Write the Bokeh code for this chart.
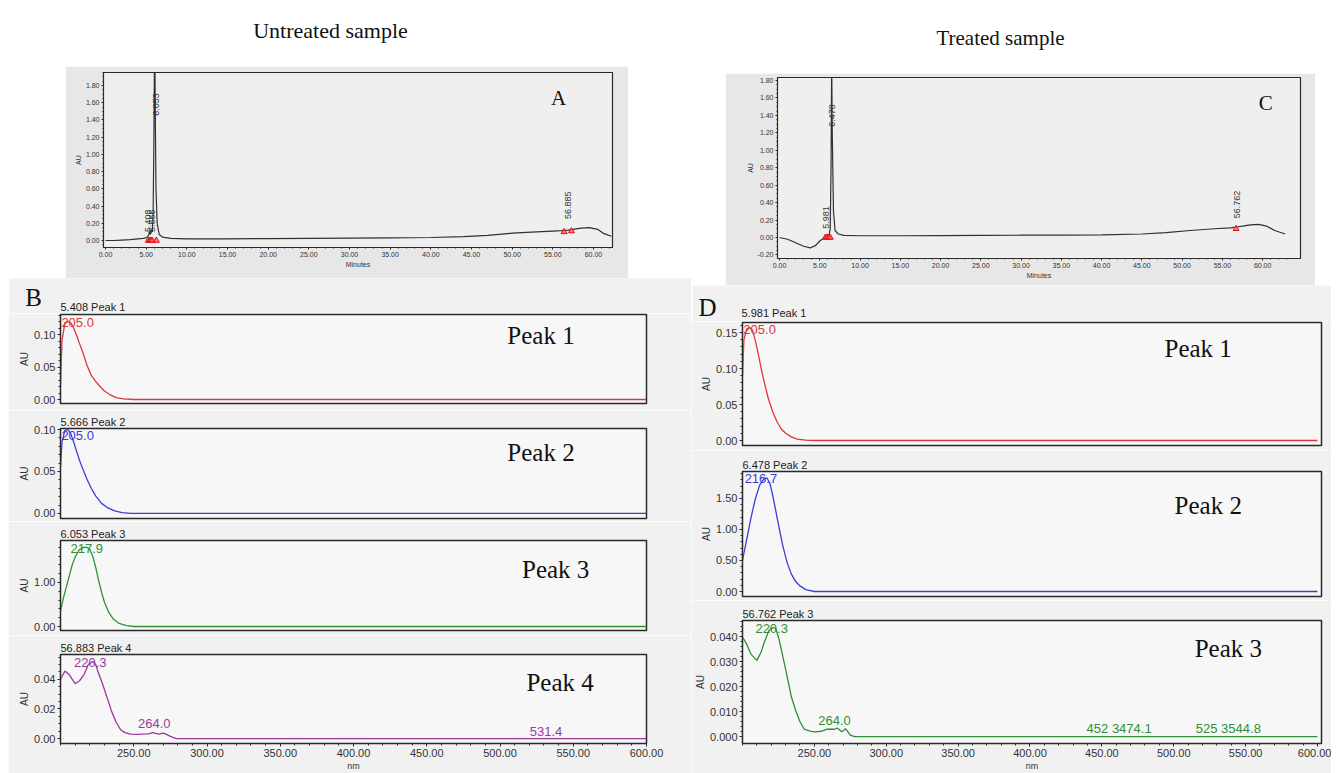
import math
from bokeh.plotting import figure
from bokeh.layouts import column, row
from bokeh.models import Spacer, Label, FixedTicker, NumeralTickFormatter
from bokeh.embed import file_html
from bokeh.resources import INLINE

# ---------------- data ----------------
# Chromatogram A (untreated)
a_time = [0, 1, 2, 3, 4, 4.6, 5.0, 5.3, 5.408, 5.5, 5.6, 5.666, 5.75, 5.85, 5.95, 6.0, 6.053, 6.11,
          6.2, 6.35, 6.6, 7.0, 8, 10, 15, 20, 25, 30, 35, 40, 44, 47, 50, 53, 55, 56, 56.885, 57.5,
          58.5, 59.5, 60.5, 61.3, 62.2]
a_au = [0.0, 0.0, 0.005, 0.01, 0.02, 0.025, 0.03, 0.06, 0.11, 0.07, 0.09, 0.12, 0.10, 0.3, 1.2, 1.9,
        2.3, 1.6, 0.6, 0.2, 0.07, 0.04, 0.025, 0.02, 0.02, 0.022, 0.025, 0.027, 0.03, 0.035, 0.045,
        0.06, 0.085, 0.1, 0.11, 0.115, 0.12, 0.13, 0.145, 0.15, 0.13, 0.08, 0.05]
a_peaks = [5.408, 5.666, 6.053, 56.885]
a_mark_t = [5.25, 5.45, 5.6, 5.75, 6.25, 56.4, 57.3]
a_mark_au = [0.0, 0.0, 0.0, 0.0, 0.0, 0.1, 0.11]

# Chromatogram C (treated)
c_time = [0, 1, 2, 3, 3.8, 4.5, 5.0, 5.5, 5.9, 5.981, 6.1, 6.3, 6.4, 6.478, 6.55, 6.7, 6.9, 7.3, 8,
          10, 15, 20, 25, 30, 35, 40, 45, 48, 51, 54, 56, 56.762, 57.5, 58.5, 59.5, 60.5, 61.5, 62.8]
c_au = [0.0, -0.02, -0.06, -0.1, -0.12, -0.09, -0.04, -0.01, 0.01, 0.03, 0.01, 0.1, 0.8, 2.0, 1.2,
        0.3, 0.08, 0.04, 0.025, 0.02, 0.02, 0.022, 0.024, 0.026, 0.028, 0.03, 0.04, 0.055, 0.08, 0.1,
        0.11, 0.12, 0.13, 0.145, 0.15, 0.13, 0.08, 0.04]
c_peaks = [5.981, 6.478, 56.762]
c_mark_t = [5.7, 5.9, 6.1, 6.3, 56.7]
c_mark_au = [0.0, 0.0, 0.0, 0.0, 0.1]

# UV spectra, untreated (B)
b1_wl = [200, 201, 203, 205, 207, 209, 211, 213, 215, 218, 221, 224, 227, 230, 234, 238, 243, 250, 600]
b1_au = [0.02, 0.09, 0.118, 0.12, 0.118, 0.11, 0.099, 0.086, 0.074, 0.053, 0.037, 0.028, 0.020,
         0.013, 0.007, 0.003, 0.001, 0.0, 0.0]
b2_wl = [200, 201, 203, 205, 207, 209, 211, 213, 215, 218, 221, 224, 228, 232, 237, 242, 248, 600]
b2_au = [0.055, 0.085, 0.099, 0.1, 0.095, 0.085, 0.074, 0.063, 0.054, 0.041, 0.030, 0.021, 0.012,
         0.007, 0.003, 0.001, 0.0, 0.0]
b3_wl = [200, 202, 204, 206, 208, 210, 213, 216, 218, 220, 222, 224, 226, 228, 230, 233, 236, 240,
         245, 250, 600]
b3_au = [0.35, 0.65, 0.9, 1.15, 1.4, 1.58, 1.75, 1.8, 1.8, 1.75, 1.6, 1.35, 1.05, 0.78, 0.55, 0.32,
         0.17, 0.07, 0.02, 0.0, 0.0]
b4_wl = [200, 203, 206, 210, 213, 216, 219, 222, 224, 226, 229, 232, 235, 238, 241, 244, 248, 252,
         256, 260, 263, 265, 267, 270, 272, 275, 279, 600]
b4_au = [0.040, 0.0455, 0.043, 0.037, 0.039, 0.043, 0.050, 0.052, 0.050, 0.044, 0.036, 0.027, 0.018,
         0.011, 0.006, 0.004, 0.003, 0.0028, 0.003, 0.0032, 0.004, 0.0035, 0.003, 0.0037, 0.003,
         0.0015, 0.0, 0.0]

# UV spectra, treated (D)
d1_wl = [200, 201, 203, 205, 207, 209, 211, 213, 215, 218, 221, 224, 227, 230, 234, 238, 244, 250, 600]
d1_au = [0.09, 0.14, 0.155, 0.157, 0.153, 0.138, 0.12, 0.1, 0.082, 0.058, 0.04, 0.026, 0.016, 0.01,
         0.005, 0.002, 0.0005, 0.0, 0.0]
d2_wl = [200, 203, 206, 209, 212, 215, 217, 219, 221, 223, 225, 228, 231, 234, 237, 240, 244, 250, 600]
d2_au = [0.5, 0.85, 1.2, 1.5, 1.72, 1.82, 1.83, 1.75, 1.55, 1.32, 1.08, 0.74, 0.47, 0.28, 0.16, 0.09,
         0.03, 0.0, 0.0]
d3_wl = [200, 203, 206, 210, 213, 215, 218.5, 221, 223, 225, 227, 230, 234, 237, 240, 243, 247, 250,
         255, 259, 264, 266, 269, 271.7, 275, 278, 600]
d3_au = [0.040, 0.037, 0.033, 0.0306, 0.034, 0.0377, 0.0427, 0.0437, 0.0435, 0.040, 0.035, 0.027,
         0.016, 0.0105, 0.006, 0.003, 0.0022, 0.0019, 0.0022, 0.003, 0.003, 0.0035, 0.002, 0.0032,
         0.0006, 0.0, 0.0]

spec_ticks = [250, 300, 350, 400, 450, 500, 550, 600]
chrom_ticks = [0, 5, 10, 15, 20, 25, 30, 35, 40, 45, 50, 55, 60]
chrom_yticks = [-0.2, 0.0, 0.2, 0.4, 0.6, 0.8, 1.0, 1.2, 1.4, 1.6, 1.8]

# ---------------- styling ----------------
SANS = "Liberation Sans"
SERIF = "Liberation Serif"
RED, BLUE, GREEN, PURPLE = "#e0353a", "#3b3bd6", "#2f8f35", "#9a3a9e"
DARK = "#2a2a2a"
SPEC_BORDER = "#f1f1f1"


def base(width, height, xr, yr, top, bottom, left, right, title=None):
    p = figure(width=width, height=height, x_range=xr, y_range=yr, title=title,
               output_backend="svg", toolbar_location=None,
               min_border_top=top, min_border_bottom=bottom,
               min_border_left=left, min_border_right=right)
    p.xgrid.visible = False
    p.ygrid.visible = False
    p.outline_line_color = DARK
    p.outline_line_width = 1.5
    for ax in (p.xaxis[0], p.yaxis[0]):
        ax.axis_line_color = DARK
        ax.major_tick_line_color = DARK
        ax.minor_tick_line_color = DARK
        ax.major_tick_in = 0
        ax.major_tick_out = 3
        ax.minor_tick_in = 0
        ax.minor_tick_out = 2
        ax.major_label_standoff = 2
        ax.axis_label_standoff = 1
        ax.major_label_text_font = SANS
        ax.axis_label_text_font = SANS
        ax.axis_label_text_font_style = "normal"
        ax.major_label_text_color = "#333333"
        ax.axis_label_text_color = "#333333"
    return p


def strip(width, height, bg):
    """A plain text strip; wrapped in a row so that it is not frame-aligned with the column."""
    p = figure(width=width - 1, height=height, x_range=(1, width), y_range=(height, 0),
               output_backend="svg", toolbar_location=None, min_border=0,
               x_axis_location=None, y_axis_location=None)
    p.grid.visible = False
    p.outline_line_color = None
    p.background_fill_color = bg
    p.border_fill_color = bg
    return p


def wrap(p, bg_height):
    return row(Spacer(width=1, height=bg_height), p)


def put(p, x, y, text, size, font, color="#111111", align="center"):
    p.add_layout(Label(x=x, y=y, text=text, text_align=align, text_baseline="middle",
                       text_font=font, text_font_size=size, text_color=color))


def chrom(width, height, xr, yr, top, bottom, left, right, t, au, yticks, peaks, lbl_y,
          lbl_dx, mark_t, mark_au, letter, letter_xy):
    p = base(width, height, xr, yr, top, bottom, left, right)
    p.background_fill_color = "#efefef"
    p.border_fill_color = "#e7e7e7"
    p.outline_line_width = 1.2
    p.line(t, au, line_color="#303030", line_width=1.2)
    p.scatter(mark_t, mark_au, marker="triangle", size=6, fill_color="#ff6060",
              line_color="#dd1111", fill_alpha=0.8)
    p.xaxis.ticker = FixedTicker(ticks=chrom_ticks, minor_ticks=[i for i in range(0, 64)])
    p.yaxis.ticker = FixedTicker(ticks=yticks,
                                 minor_ticks=[round(-0.2 + 0.05 * i, 2) for i in range(45)])
    p.xaxis.formatter = NumeralTickFormatter(format="0.00")
    p.yaxis.formatter = NumeralTickFormatter(format="0.00")
    p.xaxis.axis_label = "Minutes"
    p.yaxis.axis_label = "AU"
    for ax in (p.xaxis[0], p.yaxis[0]):
        ax.major_label_text_font_size = "7px"
        ax.axis_label_text_font_size = "7px"
        ax.major_tick_out = 2
        ax.minor_tick_out = 1
    for pk, ly, dx in zip(peaks, lbl_y, lbl_dx):
        p.add_layout(Label(x=pk + dx, y=ly, text=f"{pk:.3f}", angle=math.pi / 2,
                           text_align="left", text_baseline="middle", text_font=SANS,
                           text_font_size="9px", text_color="#333333"))
    put(p, letter_xy[0], letter_xy[1], letter, "21px", SERIF)
    return p


def spec(width, height, yr, top, bottom, left, right, wl, au, color, title, yticks, ymin_step,
         yfmt, show_x, xmax, tick_size="11px"):
    p = base(width, height, (200, xmax), yr, top, bottom, left, right, title=title)
    p.background_fill_color = "#f7f7f7"
    p.border_fill_color = SPEC_BORDER
    if title is not None:
        p.title.text_font = SANS
        p.title.text_font_size = "11px"
        p.title.text_font_style = "normal"
        p.title.text_color = "#222222"
        p.title.align = "left"
        p.title.standoff = 1
        p.title.offset = 0
    p.line(wl, au, line_color=color, line_width=1.3)
    p.xaxis.ticker = FixedTicker(ticks=spec_ticks, minor_ticks=list(range(200, 610, 10)))
    p.xaxis.formatter = NumeralTickFormatter(format="0.00")
    p.xaxis.visible = show_x
    if show_x:
        p.xaxis.axis_label = "nm"
    mt = []
    v = yticks[0]
    while v <= yr[1] + 1e-9:
        mt.append(round(v, 5))
        v += ymin_step
    p.yaxis.ticker = FixedTicker(ticks=yticks, minor_ticks=mt)
    p.yaxis.formatter = NumeralTickFormatter(format=yfmt)
    p.yaxis.axis_label = "AU"
    for ax in (p.xaxis[0], p.yaxis[0]):
        ax.major_label_text_font_size = tick_size
        ax.axis_label_text_font_size = "10px"
    p.xaxis.axis_label_text_font_size = "9px"
    return p


# ---------------- left column ----------------
LW = 683
BL, BR = 52, 45   # B spectra frame: 60 .. 646 px on the page
B_XMAX = 600
h_left = strip(LW, 58, "#ffffff")
put(h_left, 322, 22, "Untreated sample", "22px", SERIF)

fig_a = chrom(563, 212, (-0.25, 62.34), (-0.081, 1.951), 6, 31, 38, 16, a_time, a_au,
              chrom_yticks[1:], a_peaks, [0.1, 0.1, 1.45, 0.25], [-0.15, 0.0, 0.1, 0.0],
              a_mark_t, a_mark_au, "A", (55.7, 1.66))

s_b = strip(LW, 35, SPEC_BORDER)
put(s_b, 25, 19, "B", "25px", SERIF)
put(s_b, 52, 28, "5.408 Peak 1", "11px", SANS, "#222222", "left")

b1 = spec(LW, 97, (-0.00615, 0.1308), 1, 7, BL, BR, b1_wl, b1_au, RED, None,
          [0.0, 0.05, 0.10], 0.01, "0.00", False, B_XMAX)
put(b1, 200.6, 0.118, "205.0", "13px", SANS, RED, "left")
put(b1, 528, 0.098, "Peak 1", "25px", SERIF)

b2 = spec(LW, 111, (-0.006, 0.1012), 18, 3, BL, BR, b2_wl, b2_au, BLUE, "5.666 Peak 2",
          [0.0, 0.05, 0.10], 0.01, "0.00", False, B_XMAX)
put(b2, 200.6, 0.093, "205.0", "13px", SANS, BLUE, "left")
put(b2, 528, 0.0726, "Peak 2", "25px", SERIF)

b3 = spec(LW, 114, (-0.0909, 1.9545), 19, 5, BL, BR, b3_wl, b3_au, GREEN, "6.053 Peak 3",
          [0.0, 1.0], 0.2, "0.00", False, B_XMAX)
put(b3, 217.9, 1.77, "217.9", "13px", SANS, GREEN)
put(b3, 538, 1.30, "Peak 3", "25px", SERIF)

b4 = spec(LW, 138, (-0.00333, 0.0567), 19, 29, BL, BR, b4_wl, b4_au, PURPLE, "56.883 Peak 4",
          [0.0, 0.02, 0.04], 0.005, "0.00", True, B_XMAX)
put(b4, 220.3, 0.0513, "220.3", "13px", SANS, PURPLE)
put(b4, 264.0, 0.0100, "264.0", "13px", SANS, PURPLE)
put(b4, 531.4, 0.0047, "531.4", "13px", SANS, PURPLE)
put(b4, 541, 0.038, "Peak 4", "25px", SERIF)

left = column(wrap(h_left, 58), row(Spacer(width=57, height=212), fig_a), wrap(s_b, 35),
              b1, b2, b3, b4)

# ---------------- right column ----------------
RW = 640
DL, DR = 50, 10   # D spectra frame: 741 .. 1321 px on the page
h_right = strip(RW, 65, "#ffffff")
put(h_right, 309, 29, "Treated sample", "21px", SERIF)

fig_c = chrom(590, 212, (-0.25, 64.7), (-0.241, 1.835), 4, 27, 52, 15, c_time, c_au,
              chrom_yticks, c_peaks, [0.1, 1.27, 0.22], [-0.25, 0.0, 0.0],
              c_mark_t, c_mark_au, "C", (60.4, 1.54))

s_d = strip(RW, 36, SPEC_BORDER)
put(s_d, 16, 22, "D", "25px", SERIF)
put(s_d, 50, 27, "5.981 Peak 1", "11px", SANS, "#222222", "left")

d1 = spec(RW, 129, (-0.00694, 0.1639), 1, 5, DL, DR, d1_wl, d1_au, RED, None,
          [0.0, 0.05, 0.10, 0.15], 0.01, "0.00", False, 602.8)
put(d1, 200.6, 0.154, "205.0", "13px", SANS, RED, "left")
put(d1, 517, 0.128, "Peak 1", "25px", SERIF)

d2 = spec(RW, 150, (-0.0806, 1.935), 21, 4, DL, DR, d2_wl, d2_au, BLUE, "6.478 Peak 2",
          [0.0, 0.5, 1.0, 1.5], 0.1, "0.00", False, 602.8)
put(d2, 212.8, 1.82, "216.7", "13px", SANS, BLUE)
put(d2, 524, 1.39, "Peak 2", "25px", SERIF)

d3 = spec(RW, 173, (-0.00272, 0.0466), 20, 28, DL, DR, d3_wl, d3_au, GREEN, "56.762 Peak 3",
          [0.0, 0.01, 0.02, 0.03, 0.04], 0.002, "0.000", True, 602.8)
put(d3, 220.3, 0.0435, "220.3", "13px", SANS, GREEN)
put(d3, 264.0, 0.0066, "264.0", "13px", SANS, GREEN)
put(d3, 462, 0.0031, "452 3474.1", "13px", SANS, GREEN)
put(d3, 538, 0.0031, "525 3544.8", "13px", SANS, GREEN)
put(d3, 538, 0.0353, "Peak 3", "25px", SERIF)

right = column(wrap(h_right, 65), row(Spacer(width=34, height=212), fig_c), wrap(s_d, 36),
               d1, d2, d3)

layout = column(Spacer(width=1331, height=8), row(Spacer(width=8, height=765), left, right))
open("out.html", "w").write(file_html(layout, INLINE))
